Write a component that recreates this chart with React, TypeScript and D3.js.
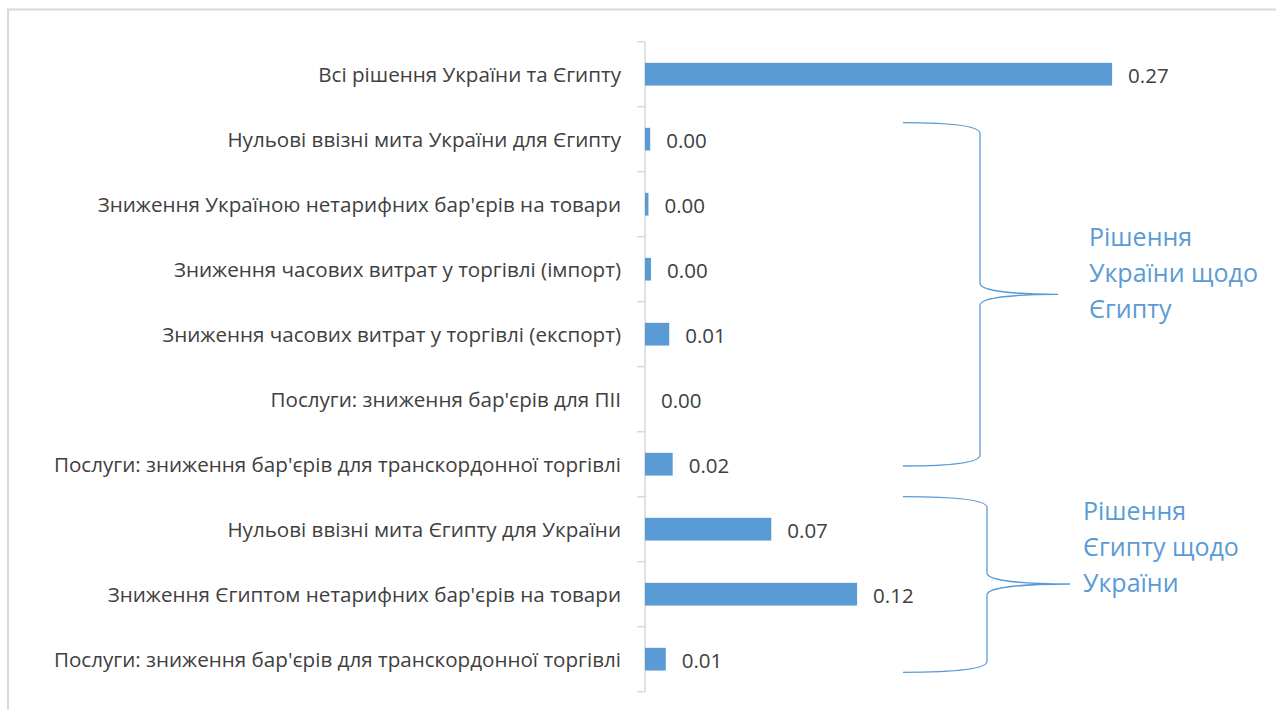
import React from 'react';
import * as d3 from 'd3';

// categories, top to bottom
const categories = [
  'Всі рішення України та Єгипту',
  'Нульові ввізні мита України для Єгипту',
  'Зниження Україною нетарифних бар\'єрів на товари',
  'Зниження часових витрат у торгівлі (імпорт)',
  'Зниження часових витрат у торгівлі (експорт)',
  'Послуги: зниження бар\'єрів для ПІІ',
  'Послуги: зниження бар\'єрів для транскордонної торгівлі',
  'Нульові ввізні мита Єгипту для України',
  'Зниження Єгиптом нетарифних бар\'єрів на товари',
  'Послуги: зниження бар\'єрів для транскордонної торгівлі ',
];

const values = [0.27, 0.003, 0.002, 0.0035, 0.014, 0, 0.016, 0.073, 0.1226, 0.012];

// brace annotations: text lines for each group
const groupLabels = [
  ['Рішення', 'України щодо', 'Єгипту'],
  ['Рішення', 'Єгипту щодо', 'України'],
];

const W = 1276;
const H = 710;
const axisX = 645;
const top = 41.7;
const bottom = 691.7;
const blue = '#5b9bd5';
const textColor = '#404040';
const font = '"Open Sans", sans-serif';
const fmt = d3.format('.2f');

// hand-placed brace geometry (annotation shapes drawn in the source chart)
const braces = [
  { x0: 903, xv: 980, xt: 1058, yTop: 122.7, yBot: 466, yTip: 294.3, tx: 1089, ty: 246 },
  { x0: 903, xv: 987, xt: 1070, yTop: 496.7, yBot: 672.3, yTip: 584, tx: 1083, ty: 520 },
];

function bracePath(b: typeof braces[0]) {
  const p = d3.path();
  const c = 11;
  const w = b.xv - b.x0;
  const t = b.xt - b.xv;
  p.moveTo(b.x0, b.yTop);
  p.bezierCurveTo(b.x0 + w * 0.55, b.yTop, b.xv, b.yTop + c * 0.2, b.xv, b.yTop + c);
  p.lineTo(b.xv, b.yTip - c);
  p.bezierCurveTo(b.xv, b.yTip - c * 0.3, b.xv + t * 0.45, b.yTip, b.xt, b.yTip);
  p.moveTo(b.xt, b.yTip);
  p.bezierCurveTo(b.xv + t * 0.45, b.yTip, b.xv, b.yTip + c * 0.3, b.xv, b.yTip + c);
  p.lineTo(b.xv, b.yBot - c);
  p.bezierCurveTo(b.xv, b.yBot - c * 0.2, b.x0 + w * 0.55, b.yBot, b.x0, b.yBot);
  return p.toString();
}

export default function App() {
  const y = d3.scaleBand<string>()
    .domain(categories)
    .range([top, bottom])
    .paddingInner(0.65)
    .paddingOuter(0.325);

  const x = d3.scaleLinear().domain([0, 0.3]).range([axisX, axisX + 519]);

  const step = y.step();
  const boundaries = d3.range(categories.length + 1).map(i => top + i * step);

  return (
    <svg width={W} height={H} style={{ position: 'absolute', left: 0, top: 0, background: '#fff' }}>
      <line x1={7} x2={W} y1={9.5} y2={9.5} stroke="#d9d9d9" strokeWidth={2} />
      <line x1={8} x2={8} y1={9} y2={H} stroke="#d9d9d9" strokeWidth={2} />

      {/* category axis */}
      <line x1={axisX} x2={axisX} y1={top} y2={bottom} stroke="#d9d9d9" strokeWidth={1.5} />
      {boundaries.map((b, i) => (
        <line key={i} x1={axisX - 8} x2={axisX} y1={b} y2={b} stroke="#d9d9d9" strokeWidth={1.5} />
      ))}
      {categories.map(c => (
        <text key={c} x={621} y={(y(c) as number) + y.bandwidth() / 2} textAnchor="end"
          dominantBaseline="central" fontFamily={font} fontSize={20.6} fill={textColor}>
          {c.trim()}
        </text>
      ))}

      {/* bars */}
      {categories.map((c, i) => (
        <rect key={c} x={x(0)} y={y(c)} width={x(values[i]) - x(0)} height={y.bandwidth()} fill={blue} />
      ))}
      {categories.map((c, i) => (
        <text key={c} x={x(values[i]) + 16} y={(y(c) as number) + y.bandwidth() / 2 + 1}
          dominantBaseline="central" fontFamily={font} fontSize={20.5} fill={textColor}>
          {fmt(values[i])}
        </text>
      ))}

      {/* group braces */}
      {braces.map((b, i) => (
        <g key={i}>
          <path d={bracePath(b)} fill="none" stroke={blue} strokeWidth={1.3} />
          <text x={b.tx} y={b.ty} fontFamily={font} fontSize={25} fill={blue}>
            {groupLabels[i].map((l, j) => (
              <tspan key={j} x={b.tx} dy={j === 0 ? 0 : 36}>{l}</tspan>
            ))}
          </text>
        </g>
      ))}
    </svg>
  );
}
